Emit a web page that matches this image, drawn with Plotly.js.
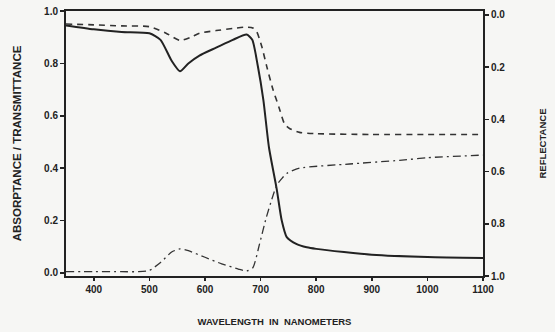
<!DOCTYPE html>
<html>
<head>
<meta charset="utf-8">
<script src="https://cdn.plot.ly/plotly-3.0.1.min.js"></script>
<style>html,body{margin:0;padding:0;background:#f6f6f4;}#chart{width:555px;height:332px;}</style>
</head>
<body>
<div id="chart"></div>
<script>
// Absorptance (left axis, solid)
const nmAbs = [350,400,450,500,520,540,555,570,590,620,650,675,685,695,705,715,729,738,747,765,783,800,850,900,1000,1100];
const absorptance = [0.945,0.93,0.92,0.915,0.89,0.81,0.77,0.80,0.83,0.86,0.89,0.91,0.89,0.79,0.66,0.48,0.32,0.20,0.137,0.11,0.098,0.092,0.08,0.07,0.061,0.057];
// Reflectance (right axis, reversed, dashed)
const nmRef = [350,400,450,500,530,555,575,590,620,650,671,686,693,702,711,722,734,743,752,770,800,900,1000,1100];
const reflectance = [0.035,0.038,0.042,0.045,0.07,0.098,0.085,0.07,0.06,0.052,0.047,0.05,0.064,0.12,0.197,0.284,0.36,0.417,0.435,0.45,0.455,0.458,0.458,0.458];
// Transmittance (left axis, dash-dot)
const nmTra = [350,400,450,480,500,520,540,555,570,600,630,660,675,686,698,710,720,729,738,747,770,860,950,1000,1100];
const transmittance = [0.005,0.005,0.005,0.005,0.01,0.04,0.08,0.092,0.085,0.06,0.035,0.015,0.008,0.02,0.11,0.21,0.28,0.335,0.36,0.38,0.40,0.416,0.43,0.44,0.45];

const xTicks = [400,500,600,700,800,900,1000,1100];
const yTicks = [0,0.2,0.4,0.6,0.8,1.0];
const yTickText = ['0.0','0.2','0.4','0.6','0.8','1.0'];

const tickFont = {family:'Liberation Sans, Arial, sans-serif', size:10, color:'#222', weight:'bold'};
const titleFont = {family:'Liberation Sans, Arial, sans-serif', size:9.5, color:'#222', weight:'bold'};
const leftTitleFont = {family:'Liberation Sans, Arial, sans-serif', size:11.5, color:'#222', weight:'bold'};

const traces = [
  {x:nmAbs, y:absorptance, mode:'lines', line:{color:'#222', width:2, shape:'spline', smoothing:0.6}, yaxis:'y', showlegend:false},
  {x:nmRef, y:reflectance, mode:'lines', line:{color:'#333', width:1.6, dash:'6px,5px', shape:'spline', smoothing:0.6}, yaxis:'y2', showlegend:false},
  {x:nmTra, y:transmittance, mode:'lines', line:{color:'#333', width:1.3, dash:'8px,4px,2px,4px', shape:'spline', smoothing:0.6}, yaxis:'y', showlegend:false}
];

const layout = {
  width:555, height:332,
  margin:{l:66, r:72, t:11, b:56},
  paper_bgcolor:'#f6f6f4', plot_bgcolor:'#f6f6f4',
  xaxis:{
    range:[350,1100], tickvals:xTicks, ticktext:xTicks.map(String),
    showgrid:false, zeroline:false, showline:true, linecolor:'#222', linewidth:2, mirror:true,
    ticks:'outside', ticklen:3, tickwidth:1.5, tickcolor:'#222', tickfont:tickFont,
    title:{text:'WAVELENGTH  IN  NANOMETERS', font:titleFont, standoff:24}
  },
  yaxis:{
    range:[-0.0115,1.0], tickvals:yTicks, ticktext:yTickText,
    showgrid:false, zeroline:false, showline:true, linecolor:'#222', linewidth:2,
    ticks:'outside', ticklen:4, tickwidth:1.5, tickcolor:'#222', tickfont:tickFont,
    title:{text:'ABSORPTANCE / TRANSMITTANCE', font:leftTitleFont, standoff:20}
  },
  yaxis2:{
    overlaying:'y', side:'right', range:[1.0,-0.015], tickvals:yTicks, ticktext:yTickText,
    showgrid:false, zeroline:false, showline:true, linecolor:'#222', linewidth:2,
    ticks:'outside', ticklen:4, tickwidth:1.5, tickcolor:'#222', tickfont:tickFont,
    title:{text:'REFLECTANCE', font:titleFont, standoff:35}
  }
};

Plotly.newPlot('chart', traces, layout, {displayModeBar:false, staticPlot:true});
</script>
</body>
</html>
